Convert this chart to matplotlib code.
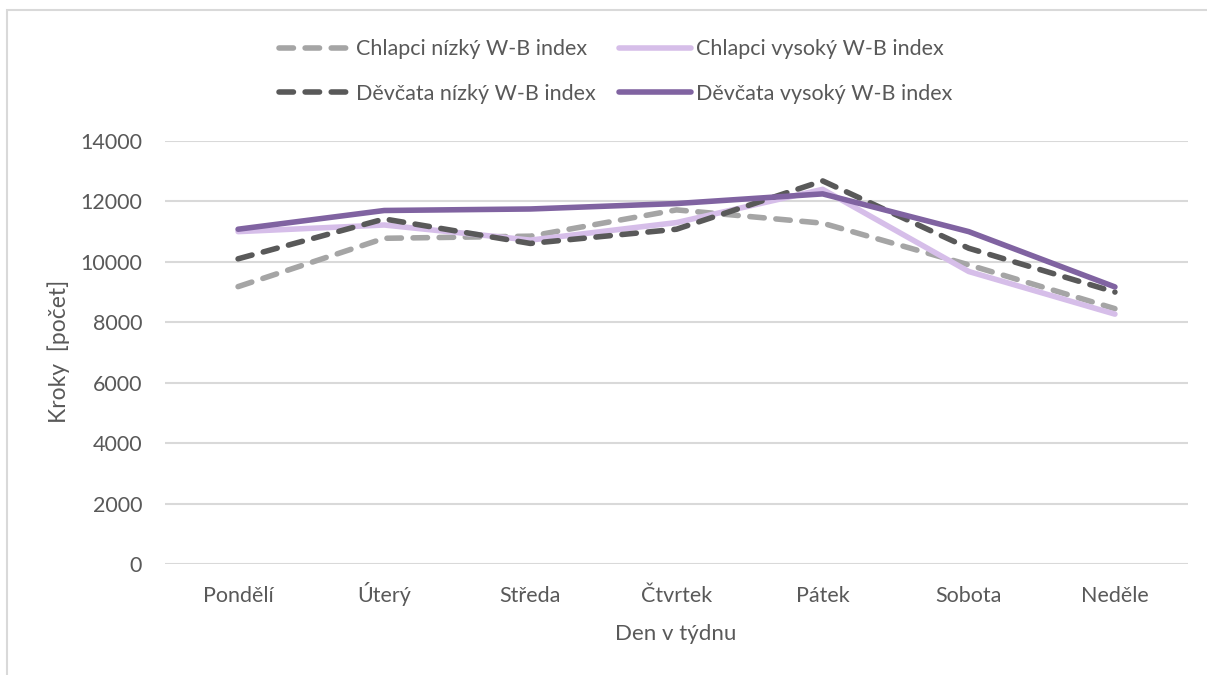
import matplotlib
matplotlib.use("Agg")
import matplotlib.pyplot as plt
from matplotlib.patches import Rectangle

plt.rcParams['font.family'] = ['Lato', 'DejaVu Sans']

# data
days = ["Pondělí", "Úterý", "Středa", "Čtvrtek", "Pátek", "Sobota", "Neděle"]
chlapci_nizky = [9180, 10780, 10850, 11720, 11280, 9900, 8450]
chlapci_vysoky = [11000, 11220, 10720, 11300, 12400, 9680, 8270]
devcata_nizky = [10100, 11420, 10610, 11080, 12680, 10450, 9000]
devcata_vysoky = [11080, 11700, 11750, 11930, 12250, 11000, 9170]
y_ticks = [0, 2000, 4000, 6000, 8000, 10000, 12000, 14000]

text_col = "#595959"
grid_col = "#D9D9D9"

fig = plt.figure(figsize=(12.07, 6.75), dpi=100)
ax = fig.add_axes([165 / 1207, 1 - 564 / 675, (1188 - 165) / 1207, (564 - 141) / 675])

# chart-area frame (cropped at right/bottom)
fig.patches.append(Rectangle((7 / 1207, -0.1), 1.2, 1 - 10 / 675 + 0.1,
                             transform=fig.transFigure, fill=False,
                             edgecolor=grid_col, lw=1.5))

x = list(range(len(days)))
lw = 4.0
series = [
    (chlapci_nizky, "Chlapci nízký W-B index", "#A5A5A5", True),
    (devcata_nizky, "Děvčata nízký W-B index", "#595959", True),
    (chlapci_vysoky, "Chlapci vysoký W-B index", "#D6BEE9", False),
    (devcata_vysoky, "Děvčata vysoký W-B index", "#8063A1", False),
]
order = [0, 2, 1, 3]  # drawing order
handles = {}
for i in order:
    vals, label, col, dashed = series[i]
    line, = ax.plot(x, vals, color=col, lw=lw, label=label,
                    solid_capstyle="round", dash_capstyle="round",
                    solid_joinstyle="round")
    if dashed:
        line.set_dashes((2.6, 2.1))
    handles[i] = line

ax.set_xlim(-0.5, len(days) - 0.5)
ax.set_ylim(0, 14000)
ax.set_yticks(y_ticks)
ax.set_xticks(x)
ax.set_xticklabels(days, va="baseline")
ax.tick_params(length=0, labelsize=15.5, colors=text_col)
ax.tick_params(axis="x", pad=27)
ax.tick_params(axis="y", pad=16.5)
ax.grid(axis="y", color=grid_col, lw=1.5)
ax.set_axisbelow(True)
for s in ax.spines.values():
    s.set_visible(False)

fig.text(676 / 1207, 1 - 634 / 675, "Den v týdnu", ha="center", va="center",
         fontsize=16, color=text_col)
fig.text(59 / 1207, 1 - 351 / 675, "Kroky  [počet]", ha="center", va="center",
         rotation=90, fontsize=16.5, color=text_col)

leg = fig.legend([handles[i] for i in range(4)], [series[i][1] for i in range(4)],
                 ncol=2, loc="center", bbox_to_anchor=(616 / 1207, 1 - 71.5 / 675),
                 frameon=False, fontsize=15.5, handlelength=3.35, handletextpad=0.23,
                 columnspacing=1.07, labelspacing=1.15, borderpad=0)
for t in leg.get_texts():
    t.set_color(text_col)

fig.savefig("out.png", dpi=100, facecolor="white")
